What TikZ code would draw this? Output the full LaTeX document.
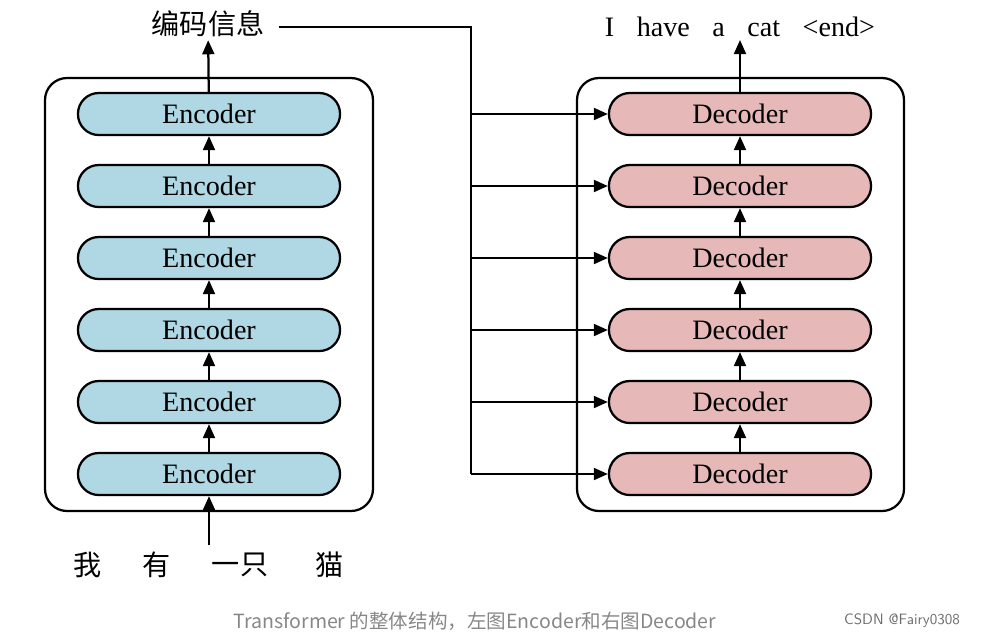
\documentclass[tikz,border=0pt]{standalone}
\usepackage{fontspec}
\setmainfont{Liberation Serif}
\newfontfamily\cjk{Noto Sans CJK SC}
\usepackage{tikz}
\usetikzlibrary{arrows.meta,positioning}
\definecolor{encblue}{RGB}{176,216,228}
\definecolor{decred}{RGB}{230,184,184}
\definecolor{capgray}{RGB}{135,135,135}

\begin{document}
\begin{tikzpicture}[x=0.025cm, y=-0.025cm,
    enc/.style={draw, line width=1.6pt, rounded corners=0.52cm, minimum width=6.55cm, minimum height=1.05cm, inner sep=0pt, fill=encblue, font=\fontsize{20}{24}\selectfont},
    dec/.style={enc, fill=decred},
    frame/.style={draw, line width=1.6pt, rounded corners=0.55cm},
    arr/.style={-{Triangle[length=10pt, width=8.5pt]}, line width=1.6pt},
    lbl/.style={font=\cjk\fontsize{20}{24}\selectfont, inner sep=2pt}
]
\useasboundingbox (0,0) rectangle (981,640);

% encoder side
\draw[frame] (45,78) rectangle (373,511);
\node[enc] (enc6) at (209,114) {Encoder};
\node[enc] (enc5) at (209,186) {Encoder};
\node[enc] (enc4) at (209,258) {Encoder};
\node[enc] (enc3) at (209,330) {Encoder};
\node[enc] (enc2) at (209,402) {Encoder};
\node[enc] (enc1) at (209,474) {Encoder};

\draw[arr] (enc1) -- (enc2);
\draw[arr] (enc2) -- (enc3);
\draw[arr] (enc3) -- (enc4);
\draw[arr] (enc4) -- (enc5);
\draw[arr] (enc5) -- (enc6);

\node[lbl] (code) at (208,24) {编码信息};
\draw[arr] (enc6) -- (code);

\coordinate (in) at (209,545);
\draw[arr] (in) -- (enc1);
\node[lbl] (w1) at (88,565) {我};
\node[lbl] (w2) at (157,565) {有};
\node[lbl] (w3) at (240,565) {一只};
\node[lbl] (w4) at (330,565) {猫};

% decoder side
\draw[frame] (577,78) rectangle (904,511);
\node[dec] (dec6) at (740,114) {Decoder};
\node[dec] (dec5) at (740,186) {Decoder};
\node[dec] (dec4) at (740,258) {Decoder};
\node[dec] (dec3) at (740,330) {Decoder};
\node[dec] (dec2) at (740,402) {Decoder};
\node[dec] (dec1) at (740,474) {Decoder};

\draw[arr] (dec1) -- (dec2);
\draw[arr] (dec2) -- (dec3);
\draw[arr] (dec3) -- (dec4);
\draw[arr] (dec4) -- (dec5);
\draw[arr] (dec5) -- (dec6);

\node[font=\fontsize{20}{24}\selectfont, inner sep=2pt] (out) at (740,27)
  {I\hspace{0.8em}have\hspace{0.8em}a\hspace{0.8em}cat\hspace{0.8em}<end>};
\draw[arr] (dec6) -- (out);

% memory bus
\coordinate (bustop) at (471,27);
\coordinate (busbot) at (471,474);
\draw[line width=1.6pt, shorten <=8pt] (code.east |- bustop) -- (bustop) -- (busbot);
\draw[arr] (bustop |- dec6) -- (dec6);
\draw[arr] (bustop |- dec5) -- (dec5);
\draw[arr] (bustop |- dec4) -- (dec4);
\draw[arr] (bustop |- dec3) -- (dec3);
\draw[arr] (bustop |- dec2) -- (dec2);
\draw[arr] (busbot) -- (dec1);

\node[font=\cjk\fontsize{13.9}{16}\selectfont, text=capgray] (cap) at (475,621)
  {Transformer 的整体结构，左图Encoder和右图Decoder};
\node[font=\fontsize{10.7}{12}\selectfont\sffamily, text=capgray!80!black] (mark) at (902,621) {CSDN @Fairy0308};
\end{tikzpicture}
\end{document}
